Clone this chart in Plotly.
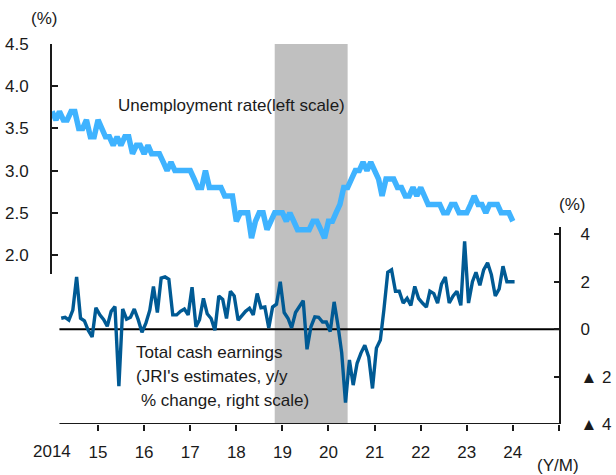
import pandas as pd
import plotly.graph_objects as go

# Unemployment rate (%, monthly from Jan 2014)
unemployment = [
    3.7, 3.6, 3.7, 3.6, 3.6, 3.7, 3.7, 3.5, 3.5, 3.6,
    3.4, 3.4, 3.6, 3.5, 3.4, 3.4, 3.3, 3.4, 3.3, 3.4,
    3.4, 3.2, 3.3, 3.3, 3.2, 3.3, 3.2, 3.2, 3.2, 3.1,
    3.0, 3.1, 3.0, 3.0, 3.0, 3.0, 3.0, 2.9, 2.8, 2.8,
    3.0, 2.8, 2.8, 2.8, 2.8, 2.7, 2.7, 2.7, 2.4, 2.5,
    2.5, 2.5, 2.2, 2.4, 2.5, 2.5, 2.3, 2.4, 2.5, 2.5,
    2.5, 2.4, 2.5, 2.4, 2.3, 2.3, 2.3, 2.3, 2.4, 2.4,
    2.3, 2.2, 2.4, 2.4, 2.5, 2.6, 2.8, 2.8, 2.9, 3.0,
    3.0, 3.1, 3.0, 3.1, 3.0, 2.9, 2.7, 2.9, 2.9, 2.9,
    2.8, 2.8, 2.7, 2.7, 2.8, 2.7, 2.8, 2.7, 2.6, 2.6,
    2.6, 2.6, 2.5, 2.5, 2.6, 2.6, 2.5, 2.5, 2.5, 2.6,
    2.7, 2.6, 2.6, 2.5, 2.6, 2.6, 2.6, 2.5, 2.5, 2.5,
    2.4,
]

# Total cash earnings, y/y % change (monthly from Mar 2014)
earnings = [
    0.46, 0.5, 0.38, 0.8, 2.2, 0.46, 0.35, -0.05, -0.33, 0.9,
    0.6, 0.4, 0.12, 0.75, 0.95, -2.4, 0.85, 0.42, 0.5, 0.85,
    0.4, -0.13, 0.25, 0.8, 1.8, 0.7, 2.15, 2.2, 2.1, 0.6,
    0.6, 0.75, 0.85, 0.6, 1.77, 0.1, 0.4, 1.3, 0.65, 0.45,
    -0.05, 1.4, 1.25, 0.45, 1.6, 1.4, 0.38, 0.6, 0.75, 0.88,
    0.6, 1.5, 0.9, 0.93, 0.05, 0.93, 1.05, 2.0, 0.7, 0.45,
    0.05, 0.7, 0.95, 1.2, -0.85, 0.1, 0.52, 0.5, 0.3, 0.3,
    -0.1, 1.15, 0.2, -1.0, -3.1, -1.3, -2.36, -1.44, -1.0, -0.68,
    -1.17, -2.5, -0.8, -0.46, 0.8, 2.4, 2.5, 1.6, 1.6, 1.1,
    1.3, 1.0, 1.8, 1.3, 1.1, 0.93, 1.6, 1.5, 1.1, 1.9,
    2.2, 1.1, 1.4, 1.6, 1.0, 3.7, 1.1, 2.0, 2.4, 1.85,
    2.5, 2.8, 2.3, 1.4, 1.7, 2.65, 2.0, 2.0, 2.0,
]

# Recession period (shaded)
recession_start = "2018-11-01"
recession_end = "2020-06-01"

# Axis ticks and labels
left_ticks = [2.0, 2.5, 3.0, 3.5, 4.0, 4.5]
right_ticks = [-4, -2, 0, 2, 4]
right_ticktext = ["\u25b2 4", "\u25b2 2", "0", "2", "4"]
year_ticks = pd.date_range("2015-01-01", "2025-01-01", freq="YS")
year_ticktext = ["15", "16", "17", "18", "19", "20", "21", "22", "23", "24", ""]
first_year_label = "2014"

unemp_months = pd.date_range("2014-01-01", periods=len(unemployment), freq="MS")
earn_months = pd.date_range("2014-03-01", periods=len(earnings), freq="MS")
earn_x = earn_months + pd.Timedelta(days=14)

FONT = "Liberation Sans, Arial, sans-serif"
INK = "#1a1a1a"
FS = 17

fig = go.Figure()

fig.add_trace(go.Scatter(
    x=unemp_months, y=unemployment, mode="lines",
    line=dict(color="#3fb3ff", width=5.5),
    xaxis="x", yaxis="y", showlegend=False, hoverinfo="skip",
))
fig.add_trace(go.Scatter(
    x=earn_x, y=earnings, mode="lines",
    line=dict(color="#005a94", width=3.4),
    xaxis="x", yaxis="y2", showlegend=False, hoverinfo="skip",
))

x_start, x_end = "2014-01-01", "2025-01-01"

fig.update_layout(
    width=616, height=475,
    margin=dict(l=52, r=57, t=44, b=51),
    paper_bgcolor="white", plot_bgcolor="rgba(0,0,0,0)",
    font=dict(family=FONT, size=FS, color=INK),
    xaxis=dict(
        type="date", range=[x_start, x_end], anchor="y2", automargin=False,
        showgrid=False, zeroline=False, showline=False,
        tickmode="array", tickvals=year_ticks, ticktext=year_ticktext,
        ticks="outside", ticklen=6, tickwidth=2, tickcolor=INK,
        ticklabelstandoff=7,
        tickfont=dict(size=FS, color=INK),
    ),
    yaxis=dict(
        domain=[0.3947, 1.0], range=[1.775, 4.5], anchor="x", automargin=False,
        showgrid=False, zeroline=False,
        showline=True, linecolor=INK, linewidth=2,
        tickmode="array", tickvals=left_ticks, tickformat=".1f",
        ticks="inside", ticklen=6, tickwidth=2, tickcolor=INK,
        ticklabelstandoff=18,
        tickfont=dict(size=FS, color=INK),
    ),
    yaxis2=dict(
        domain=[0.0, 0.518], range=[-4, 4.3], anchor="x", side="right",
        automargin=False,
        showgrid=False, zeroline=False,
        showline=True, linecolor=INK, linewidth=2,
        tickmode="array", tickvals=right_ticks, ticktext=right_ticktext,
        ticks="inside", ticklen=5, tickwidth=2, tickcolor=INK,
        ticklabelstandoff=16,
        tickfont=dict(size=FS, color=INK),
    ),
)

# Recession shading, zero line and bottom axis line
fig.add_shape(type="rect", xref="x", yref="paper",
              x0=recession_start, x1=recession_end, y0=0, y1=1,
              fillcolor="#c0c0c0", line=dict(width=0), layer="below")
fig.add_shape(type="line", xref="x", yref="y2",
              x0=earn_months[0], x1=x_end, y0=0, y1=0,
              line=dict(color="#000000", width=2), layer="below")
fig.add_shape(type="line", xref="x", yref="y2",
              x0=earn_months[0], x1=x_end, y0=-4, y1=-4,
              line=dict(color=INK, width=2), layer="above")

def note(text, x, y, xanchor="left", xref="paper"):
    fig.add_annotation(text=text, x=x, y=y, xref=xref, yref="paper",
                       xanchor=xanchor, yanchor="middle", showarrow=False,
                       font=dict(family=FONT, size=FS, color=INK))

note("(%)", -0.016, 1.068, "center")
note("(%)", 1.026, 0.577, "center")
note("Unemployment rate(left scale)", 0.127, 0.837)
note("Total cash earnings", 0.162, 0.189)
note("(JRI's estimates, y/y", 0.162, 0.124)
note("% change, right scale)", 0.172, 0.061)
note("(Y/M)", 0.998, -0.108, "center")
note(first_year_label, "2014-01-01", -0.072, "center", xref="x")

fig.write_html("out.html", config={"displayModeBar": False})
